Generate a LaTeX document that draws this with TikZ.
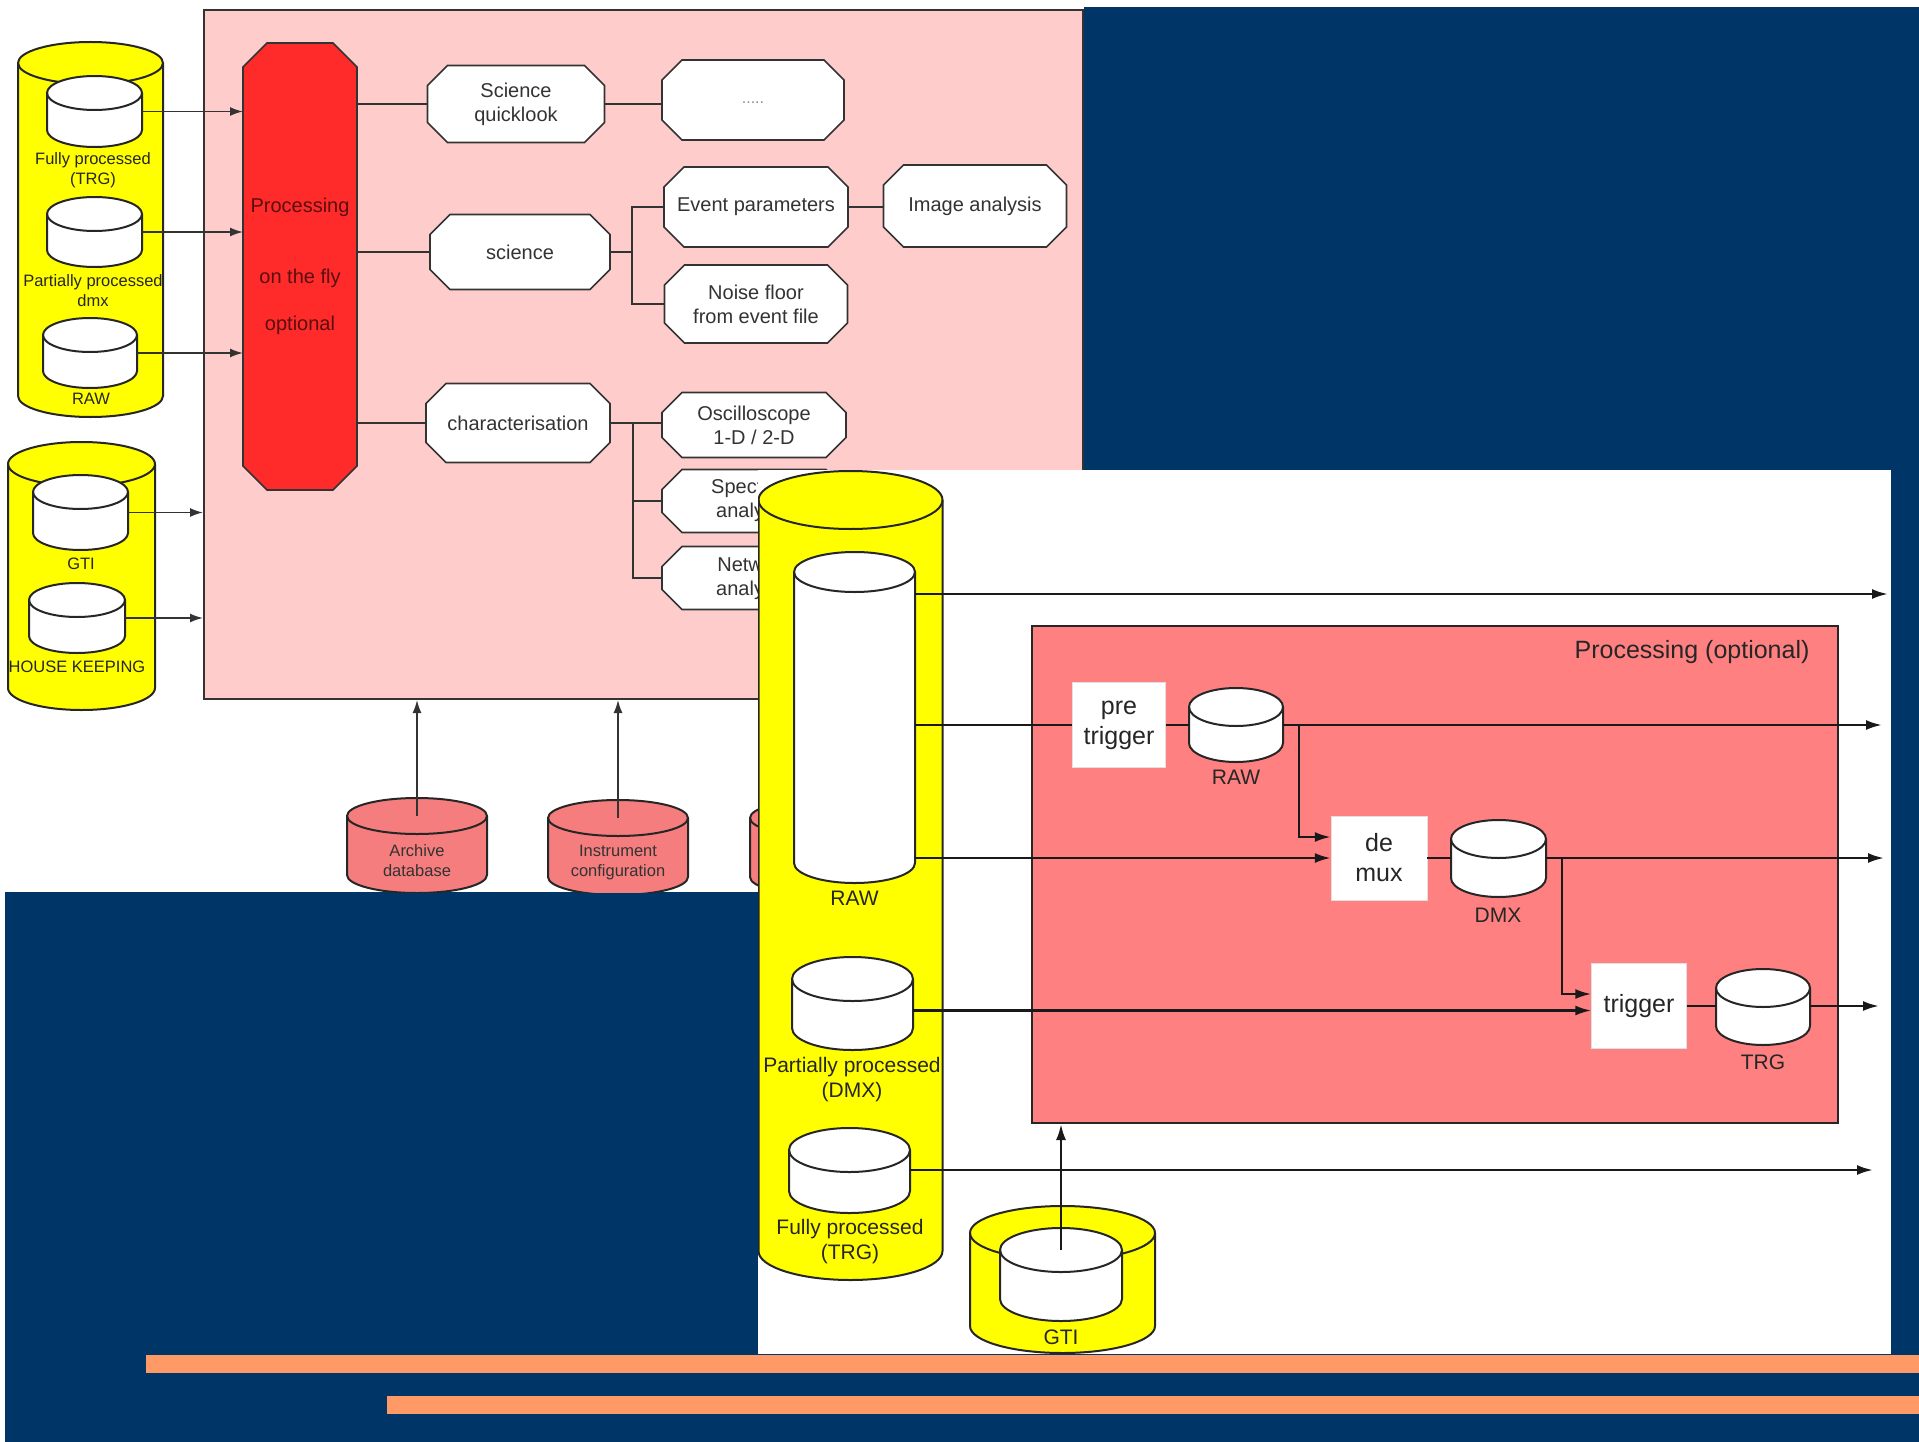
\documentclass[tikz,border=0pt]{standalone}
\usepackage{fontspec}
\setmainfont{Liberation Sans}
\usetikzlibrary{arrows.meta}

\definecolor{slidebg}{RGB}{0,53,104}
\definecolor{stripe}{RGB}{255,153,102}
\definecolor{pinkbg}{RGB}{255,204,204}
\definecolor{procred}{RGB}{255,42,42}
\definecolor{procdark}{RGB}{90,15,15}
\definecolor{salmon}{RGB}{255,128,128}
\definecolor{dbred}{RGB}{245,125,125}
\definecolor{dbyellow}{RGB}{255,255,0}

% name, centre x, top y, bottom y, x radius, y radius, fill
\newcommand{\dbcyl}[7]{%
  \node[minimum width=2*#5, minimum height=#4-#3, inner sep=0pt, outer sep=0pt] (#1) at (#2,{(#3+#4)/2}) {};
  \draw[cylline, fill=#7] (#2-#5,#3+#6) -- (#2-#5,#4-#6)
     arc[start angle=180, end angle=360, x radius=#5pt, y radius=#6pt] -- (#2+#5,#3+#6)
     arc[start angle=0, end angle=180, x radius=#5pt, y radius=#6pt] -- cycle;
  \draw[cylline] (#2-#5,#3+#6) arc[start angle=180, end angle=360, x radius=#5pt, y radius=#6pt];
}
% name, centre x, centre y, width, height, chamfer, fill, text
\newcommand{\octbox}[8]{%
  \draw[octline, fill=#7] (#2-#4/2+#6,#3-#5/2) -- (#2+#4/2-#6,#3-#5/2) -- (#2+#4/2,#3-#5/2+#6)
     -- (#2+#4/2,#3+#5/2-#6) -- (#2+#4/2-#6,#3+#5/2) -- (#2-#4/2+#6,#3+#5/2)
     -- (#2-#4/2,#3+#5/2-#6) -- (#2-#4/2,#3-#5/2+#6) -- cycle;
  \node[octtext, minimum width=#4, minimum height=#5] (#1) at (#2,#3) {#8};
}

\begin{document}
\begin{tikzpicture}[x=1pt, y=-1pt,
    cylline/.style={draw=black!85, line width=2},
    octline/.style={draw=black!80, line width=1.6},
    octtext/.style={inner sep=0pt, outer sep=0pt, align=center, text=black!80, font=\fontsize{20}{24}\selectfont},
    smalllbl/.style={align=center, text=black!85, inner sep=0pt, font=\fontsize{16.5}{20}\selectfont},
    biglbl/.style={align=center, text=black!85, inner sep=0pt, font=\fontsize{21}{25}\selectfont},
    stepbox/.style={draw=black!12, fill=white, inner sep=0pt, align=center, text=black!85,
      font=\fontsize{25}{30}\selectfont},
    link/.style={draw=black!80, line width=1.6},
    inarr/.style={link, -{Latex[length=13pt,width=9pt]}},
    flowline/.style={draw=black!90, line width=2.4},
    outarr/.style={flowline, -{Latex[length=16pt,width=10pt]}}]
      \useasboundingbox (0,0) rectangle (1919,1442);
      \fill[white] (0,0) rectangle (1919,1442);
      \fill[slidebg] (5,7) rectangle (1919,1442);
      \fill[stripe] (146,1355) rectangle (1919,1373);
      \fill[stripe] (387,1396) rectangle (1919,1414);

      % first screenshot
      \begin{scope}
        \clip (0,0) rectangle (1084,892);
        \fill[white] (0,0) rectangle (1084,892);
        \node[draw=black!80, line width=2, fill=pinkbg, minimum width=879, minimum height=689,
          anchor=north west, inner sep=0pt] (panelA) at (203,9) {};

        \dbcyl{yelA}{90.5}{42}{417}{72.5}{21}{dbyellow}
        \dbcyl{fullA}{94.5}{76}{147}{47.5}{17}{white}
        \node[smalllbl] (fullAl) at (93,170) {Fully processed\\(TRG)};
        \dbcyl{partA}{94.5}{197}{267}{47.5}{17}{white}
        \node[smalllbl] (partAl) at (93,291) {Partially processed\\dmx};
        \dbcyl{rawA}{90}{318}{388}{47}{17}{white}
        \node[smalllbl] (rawAl) at (91,399) {RAW};

        \dbcyl{yelB}{81.5}{442}{710}{73.5}{22}{dbyellow}
        \dbcyl{gtiA}{80.5}{475}{550}{47.5}{17}{white}
        \node[smalllbl] (gtiAl) at (81,564) {GTI};
        \dbcyl{hkA}{77}{583}{653}{48}{17}{white}
        \node[smalllbl] (hkAl) at (77,667) {HOUSE KEEPING};

        \octbox{proc}{300}{266.5}{114}{447}{24}{procred}{}
        \node[octtext, text=procdark, font=\fontsize{20}{47}\selectfont] (proclbl) at (proc)
          {Processing\\[24pt]on the fly\\optional};

        \octbox{sq}{516}{104}{177}{77}{20}{white}{Science\\quicklook}
        \octbox{dots}{753}{100}{182}{80}{20}{white}{\raisebox{-4pt}[0pt][0pt]{\textcolor{black!45}{\fontsize{16}{20}\selectfont .....}}}
        \octbox{science}{520}{252}{180}{75}{20}{white}{science}
        \octbox{evpar}{756}{207}{184}{80}{20}{white}{Event parameters}
        \octbox{imgan}{975}{206}{183}{82}{20}{white}{Image analysis}
        \octbox{noise}{756}{304}{183}{78}{20}{white}{Noise floor\\from event file}
        \octbox{charac}{518}{423}{184}{79}{20}{white}{characterisation}
        \octbox{osc}{754}{425}{184}{65}{20}{white}{Oscilloscope\\1-D / 2-D}
        \octbox{spec}{754}{501}{184}{63}{20}{white}{Spectrum\\analyser}
        \octbox{netw}{754}{578}{184}{63}{20}{white}{Network\\analyser}

        \draw[link] (proc.east |- sq.west) -- (sq.west);
        \draw[link] (sq.east) -- (dots.west |- sq.east);
        \draw[link] (proc.east |- science.west) -- (science.west);
        \coordinate (sbr) at ([xshift=22pt]science.east);
        \draw[link] (science.east) -- (sbr);
        \draw[link] (evpar.west) -| (sbr) |- (noise.west);
        \draw[link] (evpar.east) -- (imgan.west |- evpar.east);
        \draw[link] (proc.east |- charac.west) -- (charac.west);
        \coordinate (cbr) at ([xshift=23pt]charac.east);
        \draw[link] (charac.east) -- (osc.west |- charac.east);
        \draw[link] (cbr) |- (spec.west);
        \draw[link] (cbr) |- (netw.west);

        \dbcyl{arch}{417}{798}{893}{70}{18}{dbred}
        \node[smalllbl, text=black!80] (archl) at (417,861) {Archive\\database};
        \dbcyl{inst}{618}{800}{895}{70}{18}{dbred}
        \node[smalllbl, text=black!80] (instl) at (618,863) {Instrument\\configuration};
        \dbcyl{thirdc}{820}{800}{895}{70}{18}{dbred}

        \foreach \db in {fullA,partA,rawA}
          \draw[inarr] (\db.east) -- (proc.west |- \db.east);
        \foreach \db in {gtiA,hkA}
          \draw[inarr] (\db.east) -- (panelA.west |- \db.east);
        \foreach \db in {arch,inst,thirdc}
          \draw[inarr] ([yshift=-18pt]\db.north) -- (\db.north |- panelA.south);
      \end{scope}

      % second screenshot
      \begin{scope}
        \clip (758,470) rectangle (1891,1354);
        \fill[white] (758,470) rectangle (1891,1354);
        \dbcyl{yelC}{850.5}{471}{1280}{92}{29}{dbyellow}
        \dbcyl{yelG}{1062.5}{1206}{1353}{92.5}{27}{dbyellow}
        \node[draw=black!85, line width=2, fill=salmon, minimum width=806, minimum height=497,
          anchor=north west, inner sep=0pt] (procC) at (1031,625) {};
        \node[text=black!85, inner sep=0pt, font=\fontsize{25}{30}\selectfont] (procCt) at (1692,652)
          {Processing (optional)};

        \dbcyl{rawbig}{854.5}{552}{883}{60.5}{20}{white}
        \node[biglbl] (rawbigl) at (854.5,898) {RAW};
        \dbcyl{partC}{852.5}{957}{1050}{60.5}{22}{white}
        \node[biglbl] (partCl) at (852,1080) {Partially processed\\(DMX)};
        \dbcyl{fullC}{849.5}{1128}{1213}{60.5}{22}{white}
        \node[biglbl] (fullCl) at (850,1242) {Fully processed\\(TRG)};
        \dbcyl{gtiC}{1061}{1228}{1321}{61}{22}{white}
        \node[biglbl] (gtiCl) at (1061,1337) {GTI};

        \node[stepbox, minimum width=93, minimum height=85] (pretrig) at (1119,725) {pre\\trigger};
        \dbcyl{rawsm}{1236}{688}{762}{47}{19}{white}
        \node[biglbl] (rawsml) at (1236,777) {RAW};
        \node[stepbox, minimum width=96, minimum height=84] (demux) at (1379,858) {de\\mux};
        \dbcyl{dmx}{1498.5}{820}{897}{47.5}{19}{white}
        \node[biglbl] (dmxl) at (1498,915) {DMX};
        \node[stepbox, minimum width=95, minimum height=85] (trigger) at (1639,1006) {trigger};
        \dbcyl{trg}{1763}{969}{1045}{47}{19}{white}
        \node[biglbl] (trgl) at (1763,1062) {TRG};

        \coordinate (out1) at (1888,594);
        \coordinate (out2) at (1882,725);
        \coordinate (out3) at (1884,858);
        \coordinate (out4) at (1879,1006);
        \coordinate (out5) at (1873,1170);
        \coordinate (partCo) at ([yshift=-7pt]partC.east);

        \draw[outarr] (rawbig.east |- out1) -- (out1);
        \draw[flowline] (rawbig.east |- pretrig.west) -- (pretrig.west);
        \draw[flowline] (pretrig.east) -- (rawsm.west |- pretrig.east);
        \draw[outarr] (rawsm.east |- out2) -- (out2);
        \draw[outarr] (rawsm.east |- out2) ++(16,0) |- ([yshift=21pt]demux.west);
        \draw[outarr] (rawbig.east |- demux.west) -- (demux.west);
        \draw[flowline] (demux.east) -- (dmx.west |- demux.east);
        \draw[outarr] (dmx.east |- out3) -- (out3);
        \draw[outarr] (dmx.east |- out3) ++(16,0) |- ([yshift=12pt]trigger.west);
        \draw[outarr] (partCo) -- (trigger.west |- partCo);
        \draw[flowline] (trigger.east) -- (trg.west |- trigger.east);
        \draw[outarr] (trg.east |- out4) -- (out4);
        \draw[outarr] (fullC.east |- out5) -- (out5);
        \draw[outarr] ([yshift=-22pt]gtiC.north) -- (gtiC.north |- procC.south);
      \end{scope}
\end{tikzpicture}
\end{document}
